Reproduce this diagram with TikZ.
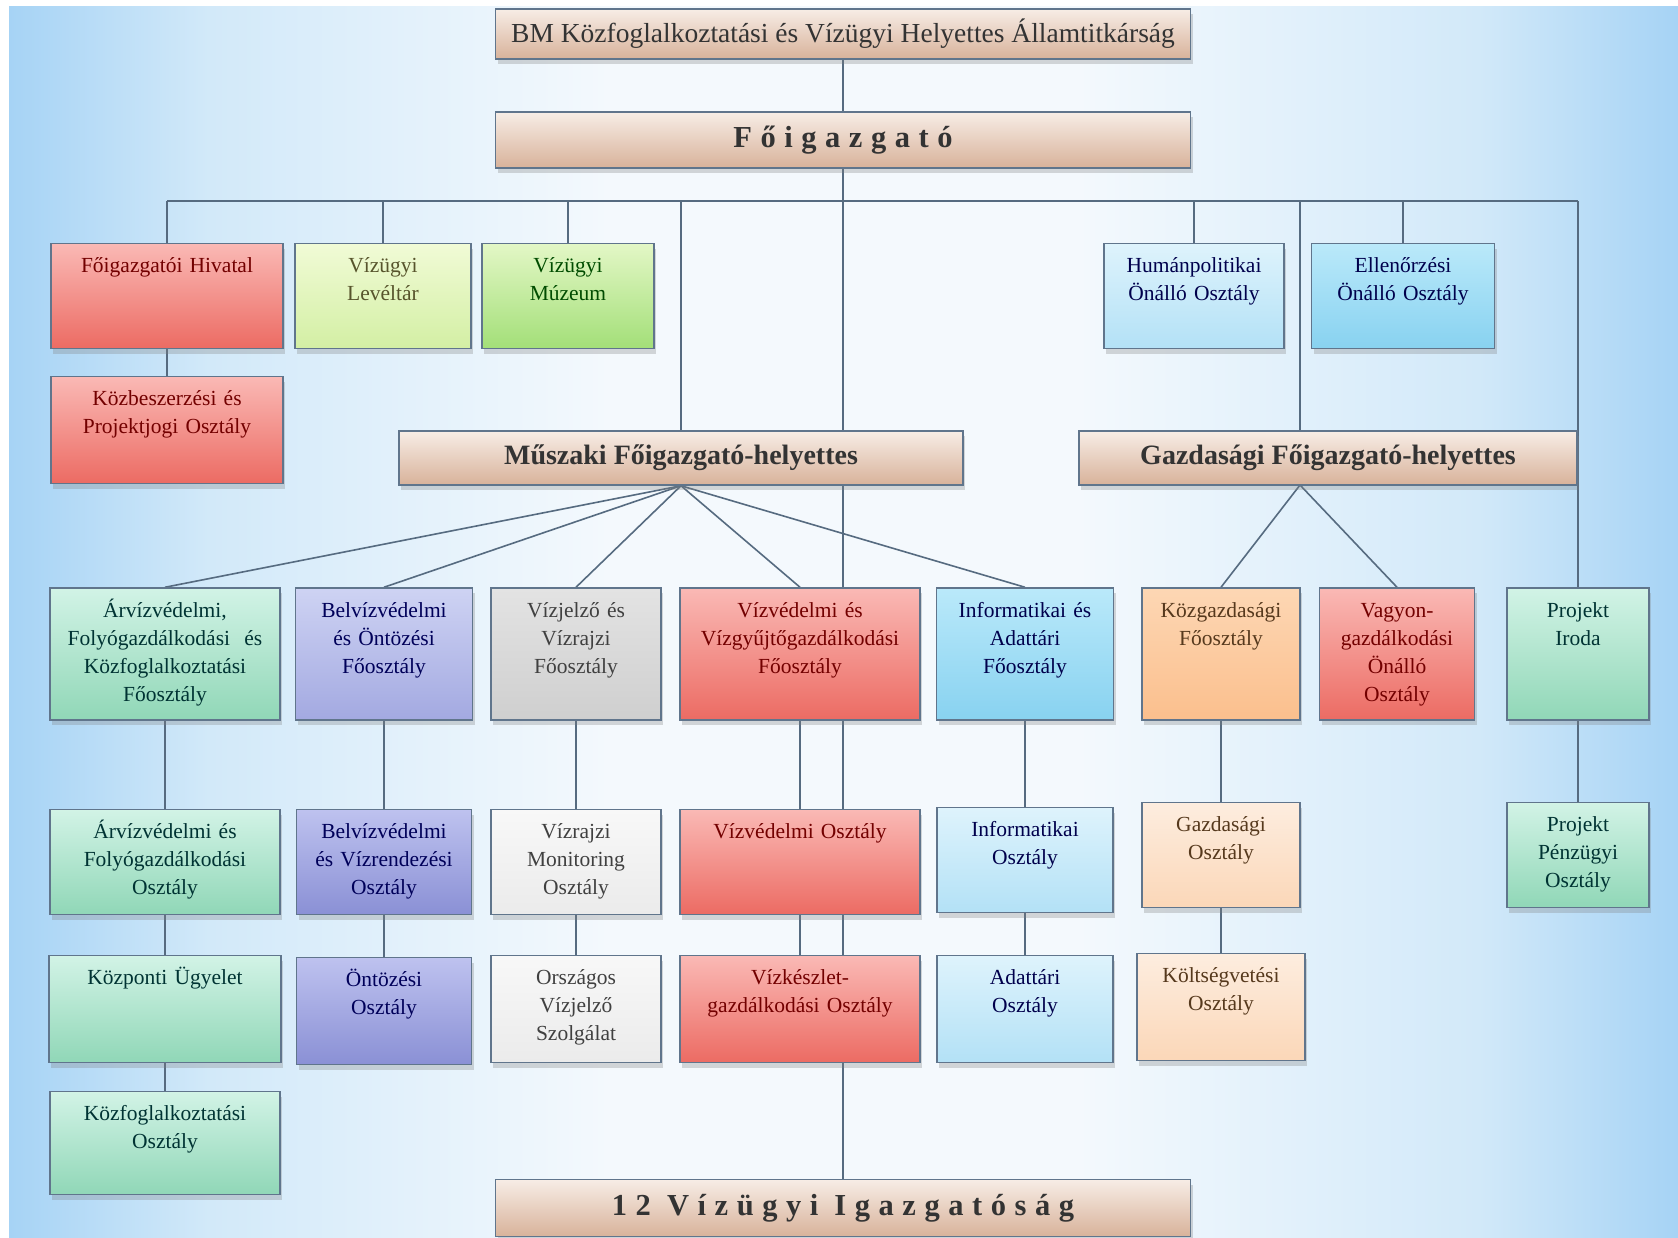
\documentclass[tikz,border=0pt]{standalone}
\usepackage{fontspec}
\setmainfont{Liberation Serif}
\newfontfamily\spacedfont[LetterSpace=28]{Liberation Serif}
\usetikzlibrary{shadows,backgrounds}

\definecolor{bgside}{HTML}{A6D3F5}
\definecolor{bglight}{HTML}{D2E9F9}
\definecolor{bgmid}{HTML}{F4F9FD}
\definecolor{linecol}{HTML}{566B80}
\definecolor{boxline}{HTML}{60758C}
\definecolor{bartop}{HTML}{F7EDE6}
\definecolor{barbot}{HTML}{D8B29A}
\definecolor{redtop}{HTML}{FAB9B5}
\definecolor{redbot}{HTML}{EC6B63}
\definecolor{limetop}{HTML}{F1FBD6}
\definecolor{limebot}{HTML}{D3EFA4}
\definecolor{greentop}{HTML}{E3F7C6}
\definecolor{greenbot}{HTML}{A3DF78}
\definecolor{minttop}{HTML}{D2F3E6}
\definecolor{mintbot}{HTML}{90D7B7}
\definecolor{lavtop}{HTML}{CED3F3}
\definecolor{lavbot}{HTML}{A3A9E1}
\definecolor{lavdtop}{HTML}{BEC2EF}
\definecolor{lavdbot}{HTML}{8A90D5}
\definecolor{greytop}{HTML}{E3E3E3}
\definecolor{greybot}{HTML}{CFCFCF}
\definecolor{whitetop}{HTML}{F8F8F8}
\definecolor{whitebot}{HTML}{EBEBEB}
\definecolor{skytop}{HTML}{BAE9FA}
\definecolor{skybot}{HTML}{88D2F0}
\definecolor{pbluetop}{HTML}{DEF3FC}
\definecolor{pbluebot}{HTML}{B3E1F6}
\definecolor{orangetop}{HTML}{FDD7B4}
\definecolor{orangebot}{HTML}{FBBF8D}
\definecolor{peachtop}{HTML}{FDEDDF}
\definecolor{peachbot}{HTML}{FBD7B8}

\pgfdeclarehorizontalshading{bgshade}{100bp}{color(0bp)=(bgside); color(25bp)=(bgside);
    color(31bp)=(bglight); color(43bp)=(bgmid); color(57bp)=(bgmid); color(69bp)=(bglight);
    color(75bp)=(bgside); color(100bp)=(bgside)}

\pgfdeclarelayer{canvas}
\pgfsetlayers{canvas,background,main}

\begin{document}
\begin{tikzpicture}[x=1pt, y=-1pt,
    conn/.style={draw=linecol, line width=1.6pt},
    unit/.style={draw=boxline, line width=1.5pt, align=center, inner xsep=0pt, inner ysep=6pt,
        text height=23pt, font=\fontsize{21.5}{28}\selectfont,
        drop shadow={shadow xshift=2pt, shadow yshift=-5pt, opacity=0.3}},
    bar/.style={draw=boxline, line width=1.5pt, minimum width=695pt, inner sep=0pt,
        top color=bartop, bottom color=barbot, text=black!80,
        drop shadow={shadow xshift=2pt, shadow yshift=-5pt, opacity=0.3}},
    subbar/.style={bar, minimum height=54pt, font=\fontsize{28}{31}\selectfont\bfseries},
    redunit/.style={unit, top color=redtop, bottom color=redbot, text=red!45!black},
    limeunit/.style={unit, top color=limetop, bottom color=limebot, text=olive!50!black},
    greenunit/.style={unit, top color=greentop, bottom color=greenbot, text=green!30!black},
    mintunit/.style={unit, top color=minttop, bottom color=mintbot, text=teal!40!black},
    lavunit/.style={unit, top color=lavtop, bottom color=lavbot, text=blue!35!black},
    lavdunit/.style={unit, top color=lavdtop, bottom color=lavdbot, text=blue!35!black},
    greyunit/.style={unit, top color=greytop, bottom color=greybot, text=black!75},
    whiteunit/.style={unit, top color=whitetop, bottom color=whitebot, text=black!75},
    skyunit/.style={unit, top color=skytop, bottom color=skybot, text=blue!30!black},
    pblueunit/.style={unit, top color=pbluetop, bottom color=pbluebot, text=blue!30!black},
    orangeunit/.style={unit, top color=orangetop, bottom color=orangebot, text=brown!45!black},
    peachunit/.style={unit, top color=peachtop, bottom color=peachbot, text=brown!45!black}
]
% Background
\begin{pgfonlayer}{canvas}
\fill[white] (0,0) rectangle (1678,1237);
\shade[shading=bgshade] (9,6) rectangle (1678,1237);
\end{pgfonlayer}

% Top of the tree
\node[bar, minimum height=50pt, font=\fontsize{27.5}{31}\selectfont] (bm) at (843,34)
    {BM Közfoglalkoztatási és Vízügyi Helyettes Államtitkárság};
\node[bar, minimum height=56pt, font=\fontsize{30.5}{34}\spacedfont\bfseries] (foig) at (843,140) {Főigazgató};
\coordinate (bus) at (843,201);

% Units under the director general
\node[redunit, text width=232pt, text depth=70pt] (hiv) at (167,296) {Főigazgatói Hivatal};
\node[limeunit, text width=176pt, text depth=70pt] (levtar) at (383,296) {Vízügyi\\Levéltár};
\node[greenunit, text width=172pt, text depth=70pt] (muz) at (568,296) {Vízügyi\\Múzeum};
\node[pblueunit, text width=180pt, text depth=70pt] (human) at (1194,296) {Humánpolitikai\\Önálló Osztály};
\node[skyunit, text width=183pt, text depth=70pt] (ellen) at (1403,296) {Ellenőrzési\\Önálló Osztály};
\node[redunit, text width=232pt, text depth=72pt] (kozbesz) at (167,430) {Közbeszerzési és\\Projektjogi Osztály};

% Deputies
\node[subbar, minimum width=564pt] (musz) at (681,458) {Műszaki Főigazgató-helyettes};
\node[subbar, minimum width=498pt] (gazd) at (1328,458) {Gazdasági Főigazgató-helyettes};
\coordinate (gzfork) at (1300,485);

% Main departments
\node[mintunit, text width=230pt, text depth=97pt] (arviz) at (165,654)
    {Árvízvédelmi,\\Folyógazdálkodási~~és\\Közfoglalkoztatási\\Főosztály};
\node[lavunit, text width=177pt, text depth=97pt] (belviz) at (384,654) {Belvízvédelmi\\és Öntözési\\Főosztály};
\node[greyunit, text width=170pt, text depth=97pt] (vizjelzo) at (576,654) {Vízjelző és\\Vízrajzi\\Főosztály};
\node[redunit, text width=240pt, text depth=97pt] (vizved) at (800,654) {Vízvédelmi és\\Vízgyűjtőgazdálkodási\\Főosztály};
\node[skyunit, text width=177pt, text depth=97pt] (infofo) at (1025,654) {Informatikai és\\Adattári\\Főosztály};
\node[orangeunit, text width=158pt, text depth=97pt] (kozgazd) at (1221,654) {Közgazdasági\\Főosztály};
\node[redunit, text width=155pt, text depth=97pt] (vagyon) at (1397,654) {Vagyon-\\gazdálkodási\\Önálló\\Osztály};
\node[mintunit, text width=142pt, text depth=97pt] (projiroda) at (1578,654) {Projekt\\Iroda};

% Departments
\node[mintunit, text width=230pt, text depth=70pt] (arvizo) at (165,862) {Árvízvédelmi és\\Folyógazdálkodási\\Osztály};
\node[lavdunit, text width=175pt, text depth=70pt] (belvizo) at (384,862) {Belvízvédelmi\\és Vízrendezési\\Osztály};
\node[whiteunit, text width=170pt, text depth=70pt] (vizrajz) at (576,862) {Vízrajzi\\Monitoring\\Osztály};
\node[redunit, text width=240pt, text depth=70pt] (vizvedo) at (800,862) {Vízvédelmi Osztály};
\node[pblueunit, text width=176pt, text depth=70pt] (infoo) at (1025,860) {Informatikai\\Osztály};
\node[peachunit, text width=158pt, text depth=70pt] (gazdo) at (1221,855) {Gazdasági\\Osztály};
\node[mintunit, text width=142pt, text depth=70pt] (projpenz) at (1578,855) {Projekt\\Pénzügyi\\Osztály};

\node[mintunit, text width=232pt, text depth=72pt] (kozpont) at (165,1009) {Központi Ügyelet};
\node[lavdunit, text width=175pt, text depth=72pt] (ontoz) at (384,1011) {Öntözési\\Osztály};
\node[whiteunit, text width=170pt, text depth=72pt] (orszagos) at (576,1009) {Országos\\Vízjelző\\Szolgálat};
\node[redunit, text width=240pt, text depth=72pt] (vizkeszlet) at (800,1009) {Vízkészlet-\\gazdálkodási Osztály};
\node[pblueunit, text width=176pt, text depth=72pt] (adattar) at (1025,1009) {Adattári\\Osztály};
\node[peachunit, text width=168pt, text depth=72pt] (koltseg) at (1221,1007) {Költségvetési\\Osztály};

\node[mintunit, text width=230pt, text depth=68pt] (kozfogl) at (165,1143) {Közfoglalkoztatási\\Osztály};

\node[bar, minimum height=57pt, font=\fontsize{30.5}{34}\spacedfont\bfseries] (vizig) at (843,1208) {12 Vízügyi Igazgatóság};

% Connections
\begin{scope}[on background layer]
\draw[conn] (bm) -- (vizig);
\draw[conn] (hiv.north |- bus) -- (projiroda.north |- bus);
\foreach \n in {hiv,levtar,muz,human,ellen,musz,projiroda}
    \draw[conn] (\n.north |- bus) -- (\n.north);
\draw[conn] (gzfork |- bus) -- (gzfork);
\draw[conn] (hiv) -- (kozbesz);
\foreach \n in {arviz,belviz,vizjelzo,vizved,infofo}
    \draw[conn] (musz.south) -- (\n.north);
\draw[conn] (gzfork) -- (kozgazd.north);
\draw[conn] (gzfork) -- (vagyon.north);
\draw[conn] (arviz) -- (arvizo) -- (kozpont) -- (kozfogl);
\draw[conn] (belviz) -- (belvizo) -- (ontoz);
\draw[conn] (vizjelzo) -- (vizrajz) -- (orszagos);
\draw[conn] (vizved) -- (vizvedo) -- (vizkeszlet);
\draw[conn] (infofo) -- (infoo) -- (adattar);
\draw[conn] (kozgazd) -- (gazdo) -- (koltseg);
\draw[conn] (projiroda) -- (projpenz);
\end{scope}
\end{tikzpicture}
\end{document}
